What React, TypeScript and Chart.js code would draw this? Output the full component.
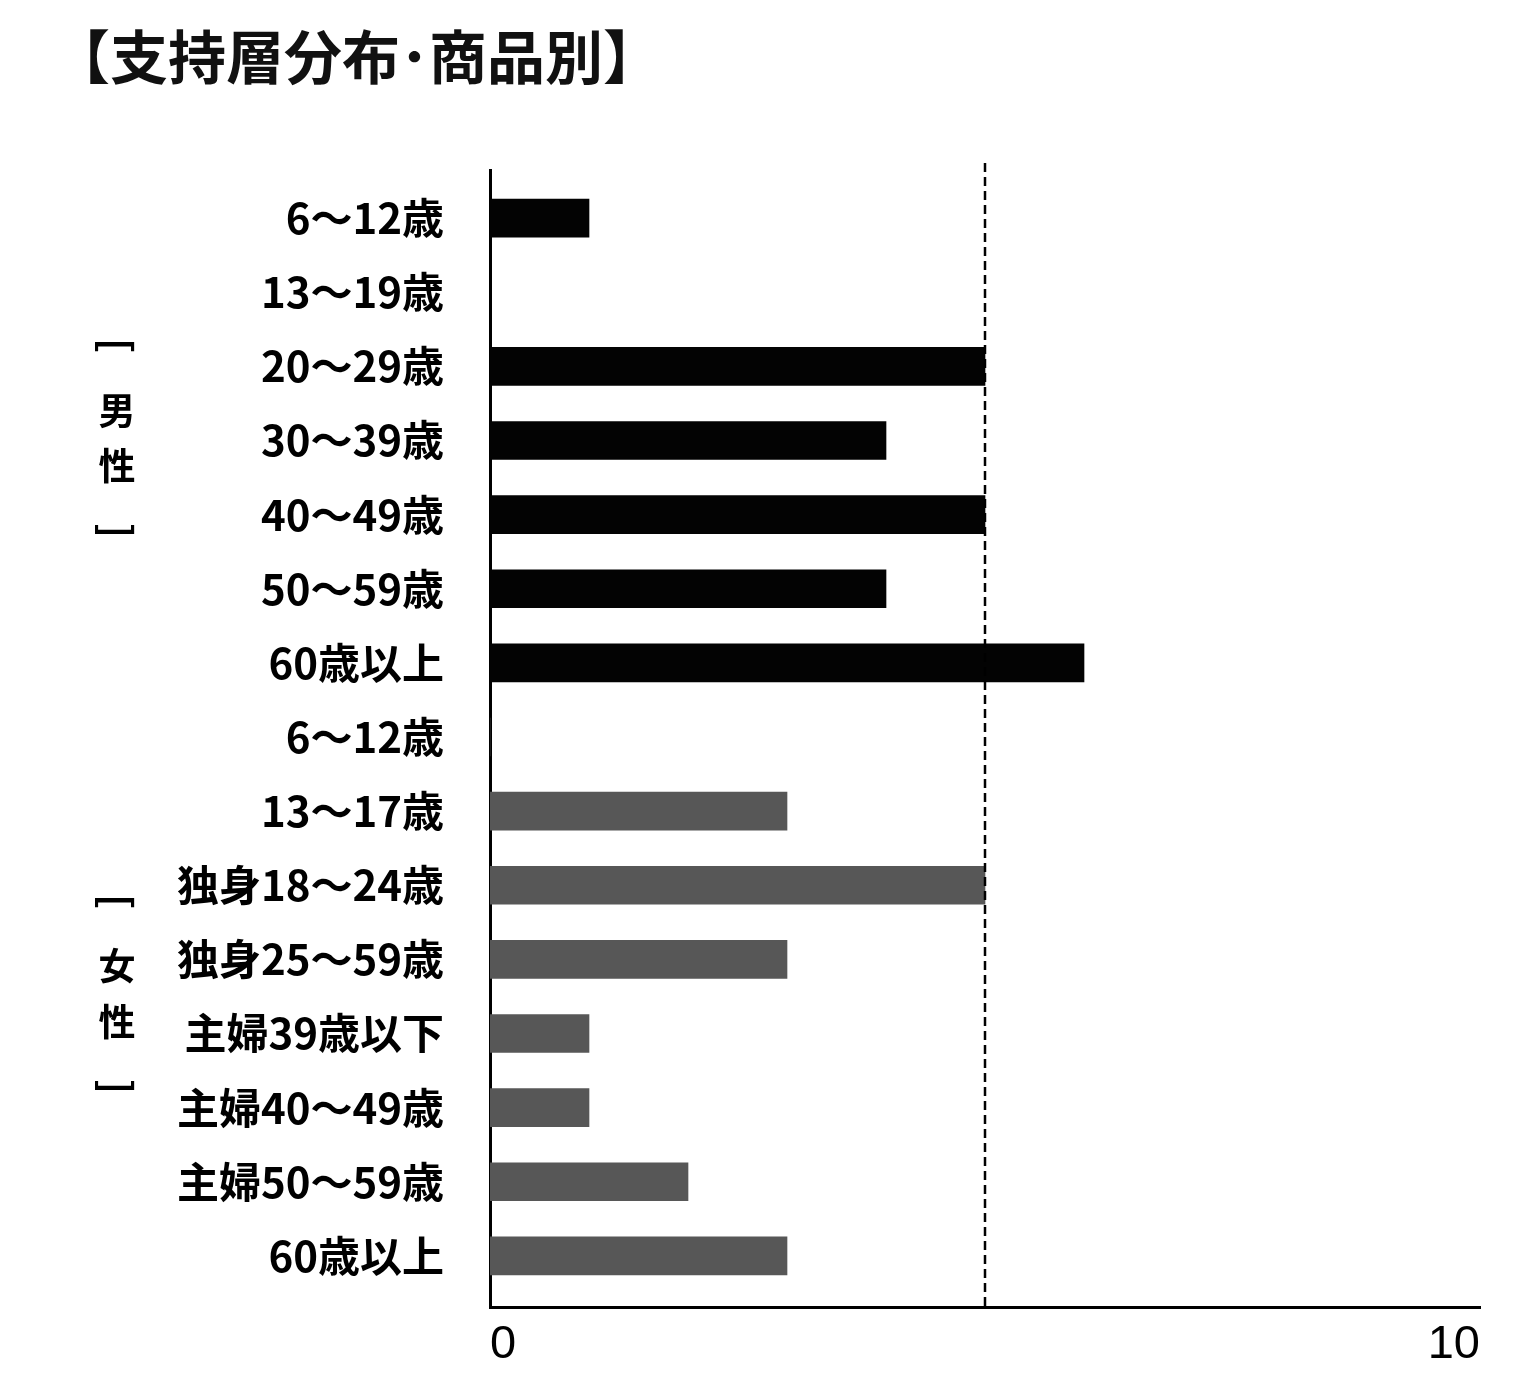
import React, { useEffect, useRef } from 'react';
import { Chart, registerables } from 'chart.js';

Chart.register(...registerables);

const titleText = '【支持層分布･商品別】';
const categories = [
  '6～12歳', '13～19歳', '20～29歳', '30～39歳', '40～49歳', '50～59歳', '60歳以上',
  '6～12歳', '13～17歳', '独身18～24歳', '独身25～59歳', '主婦39歳以下', '主婦40～49歳', '主婦50～59歳', '60歳以上',
];
const maleValues = [1, 0, 5, 4, 5, 4, 6];
const femaleValues = [0, 3, 5, 3, 1, 1, 2, 3];
const xTickValues = [0, 10];
const referenceValue = 5;
const groupNames = ['男性', '女性'];
const groupStarts = [0, 7];
const groupEnds = [6, 14];

const JP = '"Noto Sans CJK JP", "Noto Sans", sans-serif';

export default function App() {
  const ref = useRef<HTMLCanvasElement>(null);

  useEffect(() => {
    if (!ref.current) return;
    const decor = {
      id: 'decor',
      afterDatasetsDraw(chart: any) {
        const { ctx, chartArea, scales } = chart;
        const x = scales.x.getPixelForValue(referenceValue);
        ctx.save();
        ctx.strokeStyle = '#000';
        ctx.lineWidth = 2.5;
        ctx.setLineDash([9, 5]);
        ctx.beginPath();
        ctx.moveTo(x, chartArea.top - 7);
        ctx.lineTo(x, chartArea.bottom);
        ctx.stroke();
        ctx.restore();
      },
      afterDraw(chart: any) {
        const { ctx, scales } = chart;
        const y = scales.y;
        const cx = 117;
        ctx.save();
        ctx.fillStyle = '#000';
        ctx.textAlign = 'center';
        ctx.textBaseline = 'middle';
        groupNames.forEach((name, gi) => {
          const yc = (y.getPixelForValue(groupStarts[gi]) + y.getPixelForValue(groupEnds[gi])) / 2;
          ctx.font = `bold 37px ${JP}`;
          const chars = Array.from(name);
          ctx.fillText(chars[0], cx, yc - 30);
          ctx.fillText(chars[1], cx, yc + 25);
          ctx.font = `bold 40px ${JP}`;
          ctx.save();
          ctx.translate(cx, yc - 95);
          ctx.rotate(Math.PI / 2);
          ctx.fillText('[', 0, 0);
          ctx.restore();
          ctx.save();
          ctx.translate(cx, yc + 90);
          ctx.rotate(Math.PI / 2);
          ctx.fillText(']', 0, 0);
          ctx.restore();
        });
        ctx.restore();
      },
    };

    const chart = new Chart(ref.current, {
      type: 'bar',
      data: {
        datasets: [
          {
            label: '男性',
            data: maleValues.map((v, i) => ({ x: v, y: i })),
            backgroundColor: '#030303',
            barThickness: 38,
            grouped: false,
          } as any,
          {
            label: '女性',
            data: femaleValues.map((v, i) => ({ x: v, y: i + maleValues.length })),
            backgroundColor: '#575757',
            barThickness: 38,
            grouped: false,
          } as any,
        ],
      },
      options: {
        indexAxis: 'y',
        responsive: false,
        animation: false,
        layout: { padding: { left: 52, top: 0, right: 48, bottom: 0 } },
        plugins: {
          legend: { display: false },
          tooltip: { enabled: false },
          title: {
            display: true,
            text: titleText,
            align: 'start',
            color: '#111',
            font: { family: JP, size: 58, weight: 'bold', lineHeight: 1.2 },
            padding: { top: 22, bottom: 78.4 },
          },
        },
        scales: {
          x: {
            type: 'linear',
            min: 0,
            max: 10,
            afterBuildTicks: (s: any) => { s.ticks = xTickValues.map((v) => ({ value: v })); },
            afterFit: (s: any) => { s.height = 83; },
            grid: { display: false, drawTicks: false },
            border: { display: true, color: '#000', width: 3 },
            ticks: {
              align: 'inner',
              padding: 10,
              color: '#000',
              maxRotation: 0,
              font: { family: '"Liberation Sans", Arial, sans-serif', size: 47 },
            },
          },
          y: {
            type: 'linear',
            offset: false,
            reverse: true,
            min: -0.65,
            max: 14.69,
            afterBuildTicks: (s: any) => { s.ticks = categories.map((_, i) => ({ value: i })); },
            afterFit: (s: any) => { s.width = 490 - 52; },
            grid: { display: false, drawTicks: false, offset: false },
            border: { display: true, color: '#000', width: 3 },
            ticks: {
              autoSkip: false,
              padding: 46,
              color: '#000',
              callback: (v: any) => categories[Number(v)] ?? '',
              font: { family: JP, size: 42, weight: 'bold' },
            },
          },
        },
      } as any,
      plugins: [decor],
    });
    return () => chart.destroy();
  }, []);

  return (
    <div style={{ position: 'absolute', left: 0, top: 0, width: 1528, height: 1390, background: '#fff' }}>
      <canvas ref={ref} width={1528} height={1390} />
    </div>
  );
}
